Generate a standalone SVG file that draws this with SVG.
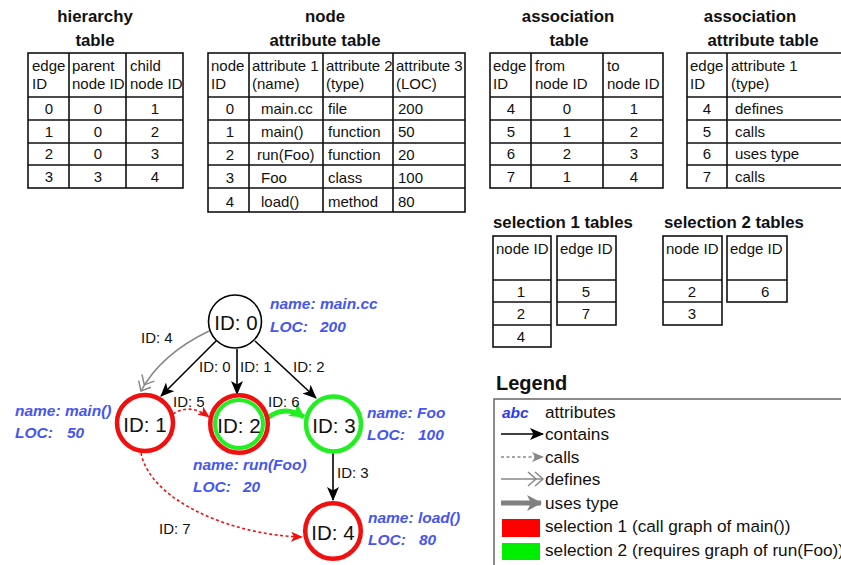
<svg xmlns="http://www.w3.org/2000/svg" width="841" height="565" viewBox="0 0 841 565">
<defs>
<style>
text{font-family:"Liberation Sans",Arial,sans-serif;fill:#111}
.t{font-size:15px}
.c{text-anchor:middle}
.h{font-size:16.8px;font-weight:bold}
.a{font-size:15.5px;font-weight:bold;font-style:italic;fill:#4656ee}
.n{font-size:20.5px;text-anchor:middle}
.lg{font-size:17.2px}
.tb{fill:none;stroke:#111;stroke-width:1.6}
.nd{fill:#fff}
</style>
<marker id="arrB" markerUnits="userSpaceOnUse" markerWidth="14" markerHeight="12" refX="13" refY="6" orient="auto"><path d="M0,0 L14,6 L0,12 L3.5,6 z" fill="#000"/></marker>
<marker id="arrR" markerUnits="userSpaceOnUse" markerWidth="12" markerHeight="10" refX="11" refY="5" orient="auto"><path d="M0,0 L12,5 L0,10 L3,5 z" fill="#f01010"/></marker>
<marker id="arrGr" markerUnits="userSpaceOnUse" markerWidth="12" markerHeight="10" refX="11" refY="5" orient="auto"><path d="M0,0 L12,5 L0,10 L3,5 z" fill="#888"/></marker>
<marker id="arrG" markerUnits="userSpaceOnUse" markerWidth="16" markerHeight="16" refX="14" refY="8" orient="auto"><path d="M0,0 L15,8 L0,16 L4,8 z" fill="#22ee22"/></marker>
<marker id="arrT" markerUnits="userSpaceOnUse" markerWidth="16" markerHeight="16" refX="14" refY="8" orient="auto"><path d="M0,0 L15,8 L0,16 L4,8 z" fill="#808080"/></marker>
<marker id="chev" markerUnits="userSpaceOnUse" markerWidth="18" markerHeight="16" refX="16" refY="8" orient="auto"><path d="M1,1 L9,8 L1,15 M8,1 L16,8 L8,15" fill="none" stroke="#888" stroke-width="1.5"/></marker>
</defs>

<g id="hierarchy-table">
<text class="h c" x="95" y="22">hierarchy</text>
<text class="h c" x="95" y="46">table</text>
<rect class="tb" x="28" y="53" width="155" height="135"/>
<path class="tb" d="M28,97H183M28,120H183M28,143H183M28,165H183M69,53V188M126,53V188"/>
<text class="t" x="32" y="71">edge</text><text class="t" x="32" y="89">ID</text>
<text class="t" x="72" y="71">parent</text><text class="t" x="72" y="89">node ID</text>
<text class="t" x="130" y="71">child</text><text class="t" x="130" y="89">node ID</text>
<text class="t c" x="49" y="114">0</text><text class="t c" x="98" y="114">0</text><text class="t c" x="155" y="114">1</text>
<text class="t c" x="49" y="137">1</text><text class="t c" x="98" y="137">0</text><text class="t c" x="155" y="137">2</text>
<text class="t c" x="49" y="159">2</text><text class="t c" x="98" y="159">0</text><text class="t c" x="155" y="159">3</text>
<text class="t c" x="49" y="182">3</text><text class="t c" x="98" y="182">3</text><text class="t c" x="155" y="182">4</text>
</g>

<g id="node-attribute-table">
<text class="h c" x="325" y="22">node</text>
<text class="h c" x="325" y="46">attribute table</text>
<rect class="tb" x="208" y="53" width="257" height="159"/>
<path class="tb" d="M208,97H465M208,120H465M208,143H465M208,165H465M208,188H465M249,53V212M323,53V212M393,53V212"/>
<text class="t" x="211" y="71">node</text><text class="t" x="211" y="89">ID</text>
<text class="t" x="252" y="71">attribute 1</text><text class="t" x="252" y="89">(name)</text>
<text class="t" x="326" y="71">attribute 2</text><text class="t" x="326" y="89">(type)</text>
<text class="t" x="396" y="71">attribute 3</text><text class="t" x="396" y="89">(LOC)</text>
<text class="t c" x="230" y="114">0</text><text class="t" x="261" y="114">main.cc</text><text class="t" x="328" y="114">file</text><text class="t" x="398" y="114">200</text>
<text class="t c" x="230" y="137">1</text><text class="t" x="261" y="137">main()</text><text class="t" x="328" y="137">function</text><text class="t" x="398" y="137">50</text>
<text class="t c" x="230" y="160">2</text><text class="t" x="257" y="160">run(Foo)</text><text class="t" x="328" y="160">function</text><text class="t" x="398" y="160">20</text>
<text class="t c" x="230" y="183">3</text><text class="t" x="261" y="183">Foo</text><text class="t" x="328" y="183">class</text><text class="t" x="398" y="183">100</text>
<text class="t c" x="230" y="207">4</text><text class="t" x="261" y="207">load()</text><text class="t" x="328" y="207">method</text><text class="t" x="398" y="207">80</text>
</g>

<g id="association-table">
<text class="h c" x="568" y="22">association</text>
<text class="h c" x="569" y="46">table</text>
<rect class="tb" x="490" y="53" width="173" height="135"/>
<path class="tb" d="M490,97H663M490,120H663M490,143H663M490,165H663M531,53V188M603,53V188"/>
<text class="t" x="493" y="71">edge</text><text class="t" x="493" y="89">ID</text>
<text class="t" x="535" y="71">from</text><text class="t" x="535" y="89">node ID</text>
<text class="t" x="607" y="71">to</text><text class="t" x="607" y="89">node ID</text>
<text class="t c" x="511" y="114">4</text><text class="t c" x="567" y="114">0</text><text class="t c" x="634" y="114">1</text>
<text class="t c" x="511" y="137">5</text><text class="t c" x="567" y="137">1</text><text class="t c" x="634" y="137">2</text>
<text class="t c" x="511" y="159">6</text><text class="t c" x="567" y="159">2</text><text class="t c" x="634" y="159">3</text>
<text class="t c" x="511" y="182">7</text><text class="t c" x="567" y="182">1</text><text class="t c" x="634" y="182">4</text>
</g>

<g id="association-attribute-table">
<text class="h c" x="750" y="22">association</text>
<text class="h c" x="763" y="46">attribute table</text>
<path class="tb" d="M850,53H687V188H850M687,97H850M687,120H850M687,143H850M687,165H850M727,53V188"/>
<text class="t" x="690" y="71">edge</text><text class="t" x="690" y="89">ID</text>
<text class="t" x="731" y="71">attribute 1</text><text class="t" x="731" y="89">(type)</text>
<text class="t c" x="707" y="114">4</text><text class="t" x="735" y="114">defines</text>
<text class="t c" x="707" y="137">5</text><text class="t" x="735" y="137">calls</text>
<text class="t c" x="707" y="159">6</text><text class="t" x="735" y="159">uses type</text>
<text class="t c" x="707" y="182">7</text><text class="t" x="735" y="182">calls</text>
</g>

<g id="selection-1-tables">
<text class="h" x="493" y="228">selection 1 tables</text>
<rect class="tb" x="493" y="236" width="58" height="111"/>
<path class="tb" d="M493,280H551M493,302H551M493,325H551"/>
<text class="t" x="496" y="254">node ID</text>
<text class="t c" x="521" y="297">1</text><text class="t c" x="521" y="319">2</text><text class="t c" x="521" y="342">4</text>
<rect class="tb" x="557" y="236" width="59" height="89"/>
<path class="tb" d="M557,280H616M557,302H616"/>
<text class="t" x="560" y="254">edge ID</text>
<text class="t c" x="586" y="297">5</text><text class="t c" x="586" y="319">7</text>
</g>

<g id="selection-2-tables">
<text class="h" x="664" y="228">selection 2 tables</text>
<rect class="tb" x="663" y="236" width="59" height="89"/>
<path class="tb" d="M663,280H722M663,302H722"/>
<text class="t" x="666" y="254">node ID</text>
<text class="t c" x="692" y="297">2</text><text class="t c" x="692" y="319">3</text>
<rect class="tb" x="727" y="236" width="60" height="66"/>
<path class="tb" d="M727,280H787"/>
<text class="t" x="730" y="254">edge ID</text>
<text class="t" x="761" y="297">6</text>
</g>

<g id="connectors">
<path d="M209,331 C180,345 155,365 141,391" fill="none" stroke="#888" stroke-width="1.5" marker-end="url(#chev)"/>
<text class="t" x="141" y="343">ID: 4</text>
<line x1="217" y1="340" x2="161" y2="396" stroke="#000" stroke-width="1.6" marker-end="url(#arrB)"/>
<text class="t" x="199" y="372">ID: 0</text>
<line x1="237" y1="349" x2="237" y2="394" stroke="#000" stroke-width="1.6" marker-end="url(#arrB)"/>
<text class="t" x="240" y="372">ID: 1</text>
<line x1="255" y1="341" x2="316" y2="398" stroke="#000" stroke-width="1.6" marker-end="url(#arrB)"/>
<text class="t" x="293" y="372">ID: 2</text>
<path d="M173,414 Q190,403 209,417" fill="none" stroke="#f01010" stroke-width="1.6" stroke-dasharray="3,2.5" marker-end="url(#arrR)"/>
<text class="t" x="173" y="407">ID: 5</text>
<path d="M266,419 Q284,404 304,417" fill="none" stroke="#22ee22" stroke-width="5" marker-end="url(#arrG)"/>
<text class="t" x="268" y="407">ID: 6</text>
<line x1="333" y1="453" x2="333" y2="500" stroke="#000" stroke-width="1.6" marker-end="url(#arrB)"/>
<text class="t" x="337" y="478">ID: 3</text>
<path d="M141,453 C150,500 230,535 302,537" fill="none" stroke="#f01010" stroke-width="1.6" stroke-dasharray="3,2.5" marker-end="url(#arrR)"/>
<text class="t" x="159" y="534">ID: 7</text>
</g>

<g id="node-0">
<circle class="nd" cx="235" cy="321.5" r="26.5" stroke="#000" stroke-width="1.6"/>
<text class="n" x="236" y="330">ID: 0</text>
<text class="a" x="270" y="309">name: main.cc</text>
<text class="a" x="270" y="332">LOC:</text><text class="a" x="320" y="332">200</text>
</g>
<g id="node-1">
<circle class="nd" cx="145" cy="423" r="28" stroke="#f01010" stroke-width="4.5"/>
<text class="n" x="145" y="432">ID: 1</text>
<text class="a" x="15" y="416">name: main()</text>
<text class="a" x="15" y="438">LOC:</text><text class="a" x="67" y="438">50</text>
</g>
<g id="node-2">
<circle class="nd" cx="239" cy="424" r="28.8" stroke="#f01010" stroke-width="4.5"/>
<circle cx="239" cy="424" r="24" fill="none" stroke="#22ee22" stroke-width="4"/>
<text class="n" x="239" y="433">ID: 2</text>
<text class="a" x="193" y="470">name: run(Foo)</text>
<text class="a" x="193" y="492">LOC:</text><text class="a" x="243" y="492">20</text>
</g>
<g id="node-3">
<circle class="nd" cx="333.5" cy="424" r="27.5" stroke="#22ee22" stroke-width="4.5"/>
<text class="n" x="334" y="433">ID: 3</text>
<text class="a" x="367" y="418">name: Foo</text>
<text class="a" x="367" y="440">LOC:</text><text class="a" x="418" y="440">100</text>
</g>
<g id="node-4">
<circle class="nd" cx="333" cy="531" r="27.8" stroke="#f01010" stroke-width="4.5"/>
<text class="n" x="333" y="540">ID: 4</text>
<text class="a" x="368" y="523">name: load()</text>
<text class="a" x="368" y="545">LOC:</text><text class="a" x="419" y="545">80</text>
</g>

<g id="legend">
<text x="496" y="390" style="font-size:20px;font-weight:bold">Legend</text>
<path d="M850,399H494V570" fill="none" stroke="#666" stroke-width="1.5"/>
<text x="502" y="418" style="font-size:15.5px;font-weight:bold;font-style:italic;fill:#2a3cee">abc</text>
<text class="lg" x="545" y="418">attributes</text>
<line x1="501" y1="434" x2="543" y2="434" stroke="#000" stroke-width="1.6" marker-end="url(#arrB)"/>
<text class="lg" x="545" y="440">contains</text>
<line x1="501" y1="457" x2="543" y2="457" stroke="#888" stroke-width="1.5" stroke-dasharray="3,2.5" marker-end="url(#arrGr)"/>
<text class="lg" x="545" y="463">calls</text>
<line x1="501" y1="479" x2="543" y2="479" stroke="#888" stroke-width="1.5" marker-end="url(#chev)"/>
<text class="lg" x="545" y="485">defines</text>
<line x1="501" y1="503" x2="541" y2="503" stroke="#808080" stroke-width="5" marker-end="url(#arrT)"/>
<text class="lg" x="545" y="509">uses type</text>
<rect x="502" y="519" width="38" height="18" fill="#f00"/>
<text class="lg" x="545" y="532">selection 1 (call graph of main())</text>
<rect x="502" y="543" width="38" height="17" fill="#00ee00"/>
<text class="lg" x="545" y="556">selection 2 (requires graph of run(Foo))</text>
</g>
</svg>
